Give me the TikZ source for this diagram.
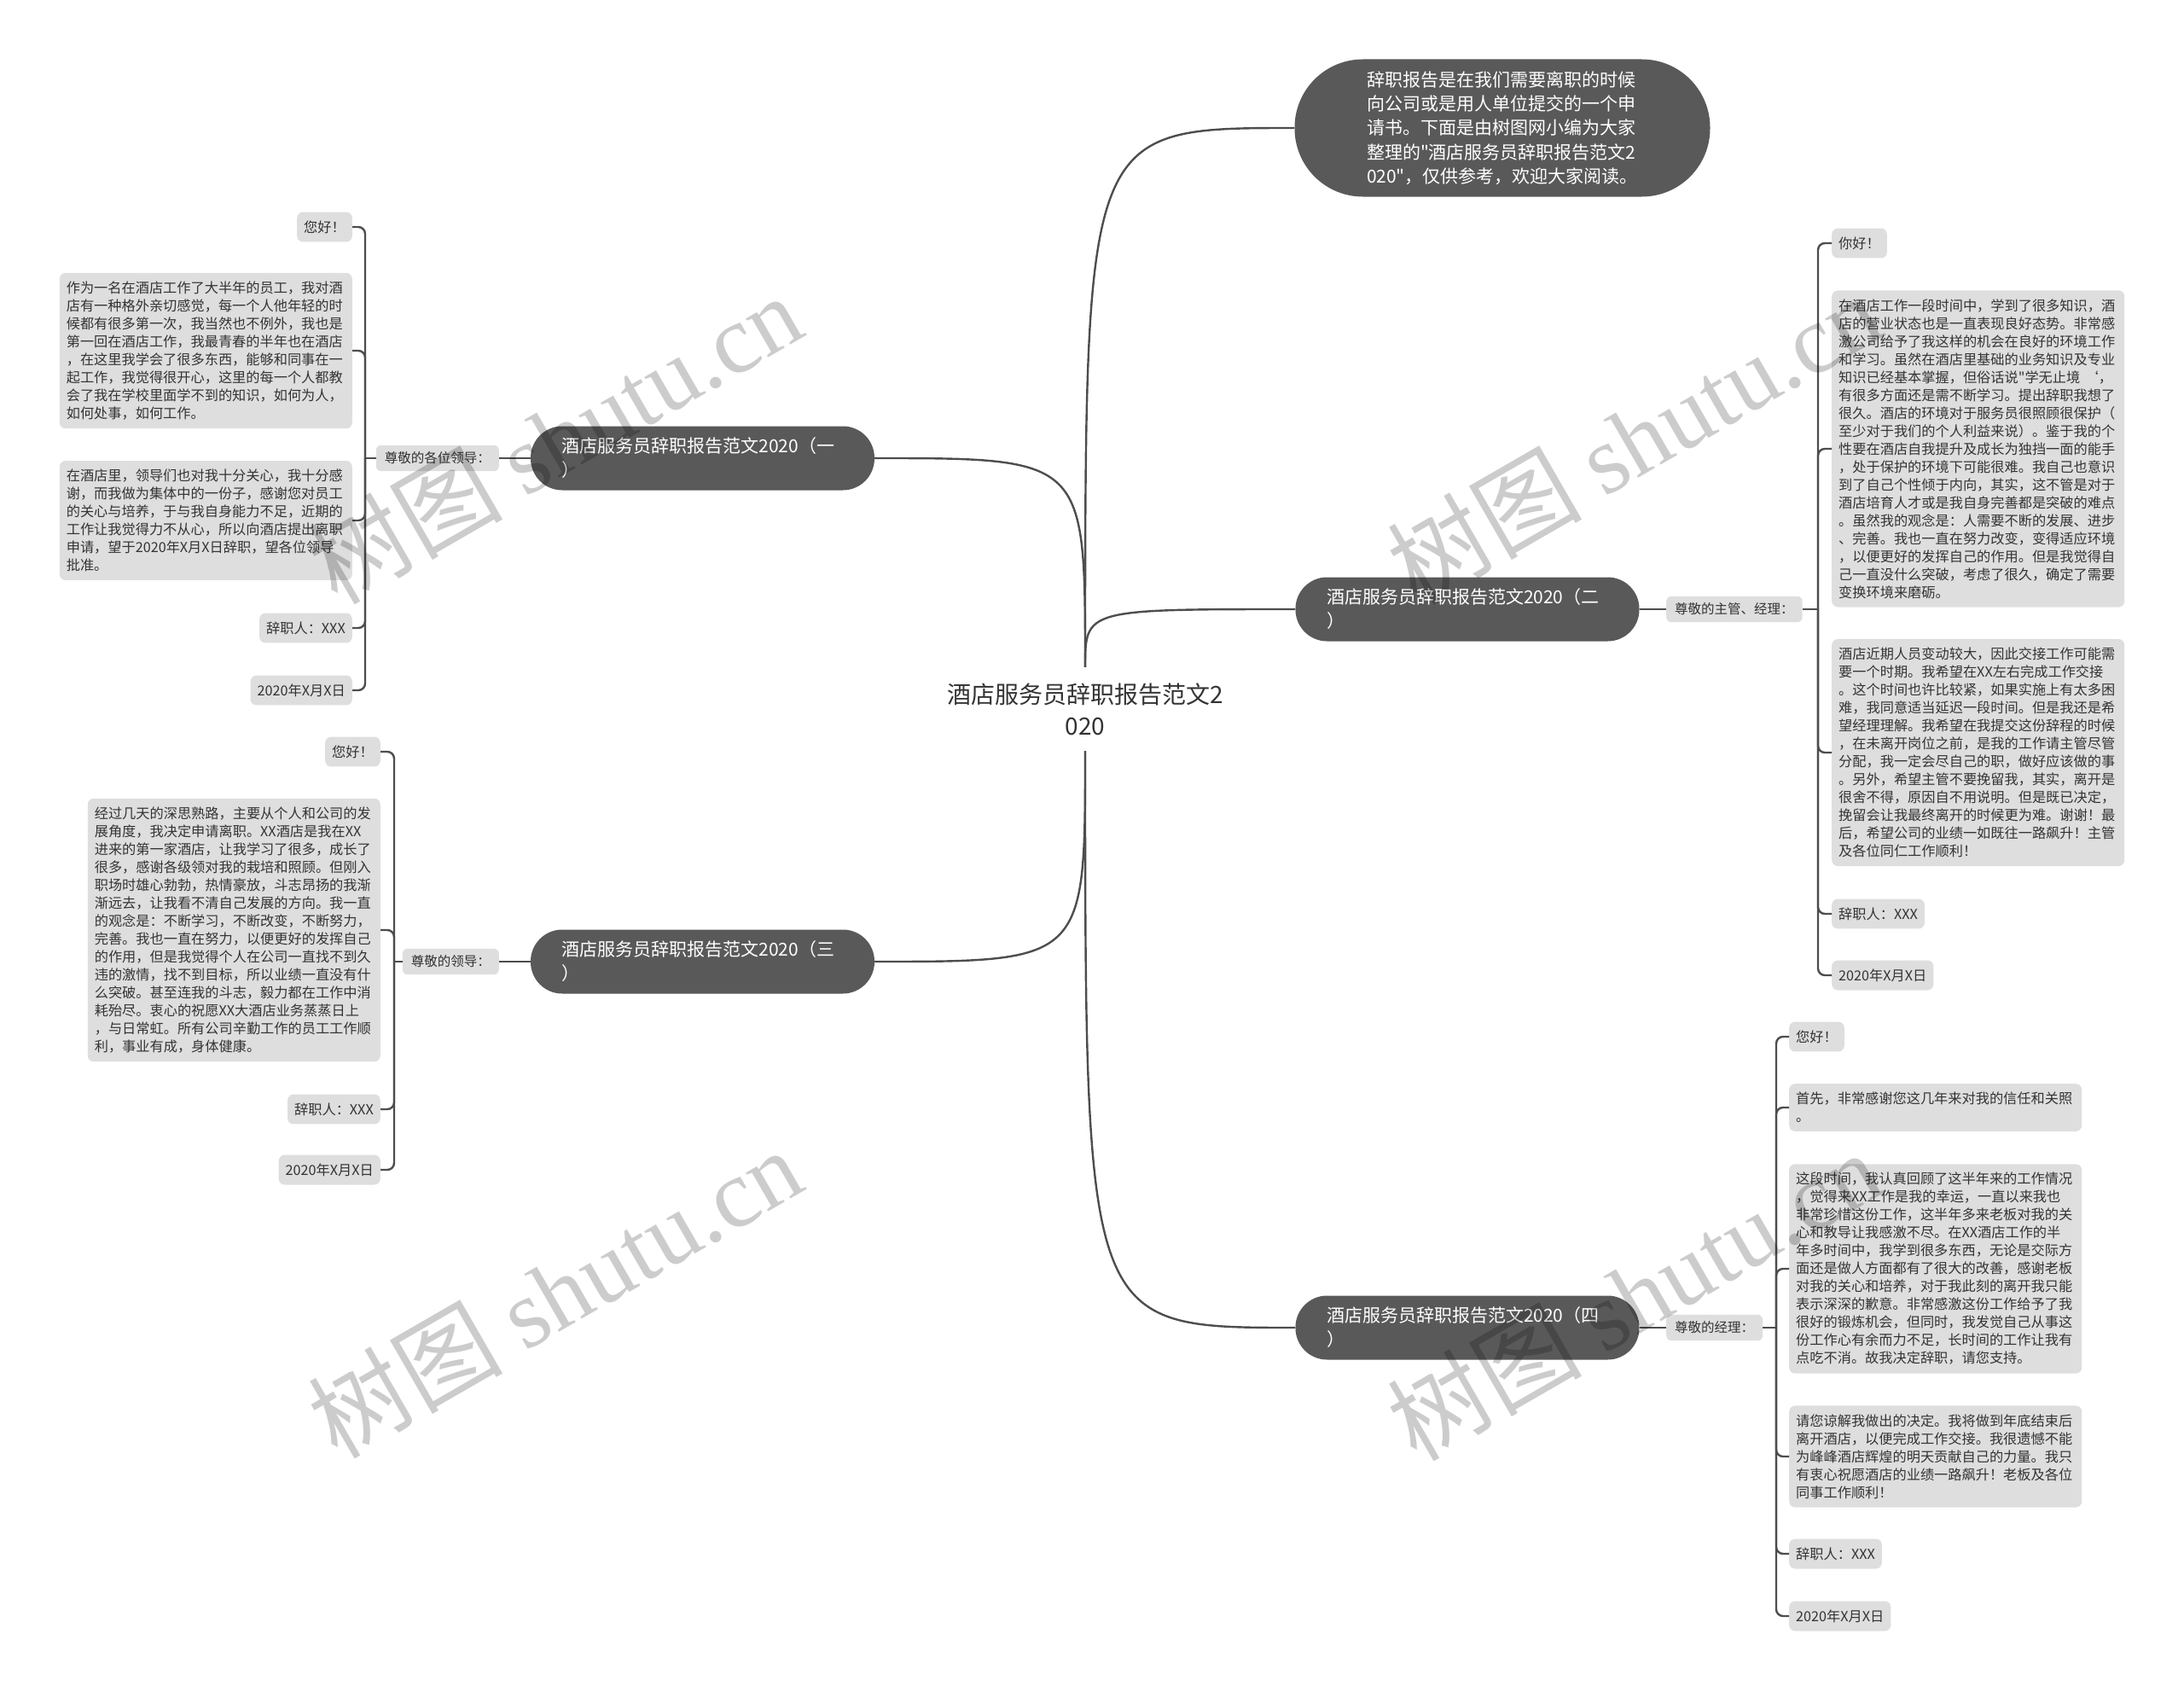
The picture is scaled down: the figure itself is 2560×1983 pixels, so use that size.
\documentclass[tikz,border=0pt]{standalone}
\usepackage{fontspec}
\newfontfamily\cjkfont{Noto Sans CJK SC}
\newfontfamily\wmfont{Liberation Serif}
\usepackage{xcolor}
\usepackage{tikz}
\usetikzlibrary{calc, positioning}
\definecolor{topicgray}{HTML}{595959}
\definecolor{leafgray}{HTML}{DEDEDE}
\definecolor{linegray}{HTML}{4D4D4D}
\definecolor{textgray}{HTML}{333333}

\begin{document}
\begin{tikzpicture}[x=1pt, y=-1pt,
  rootnode/.style={align=center, text=textgray, font=\cjkfont\fontsize{28}{37}\selectfont, minimum height=98pt, inner sep=0pt},
  intronode/.style={rectangle, fill=topicgray, text=white, rounded corners=80pt, minimum width=487pt, minimum height=161pt, text width=318pt, align=left, font=\cjkfont\fontsize{21}{28.3}\selectfont},
  topicnode/.style={rectangle, fill=topicgray, text=white, rounded corners=37pt, minimum width=403pt, minimum height=75pt, text width=330pt, align=left, font=\cjkfont\fontsize{21}{28}\selectfont},
  tagnode/.style={rectangle, fill=leafgray, text=textgray, rounded corners=6pt, inner xsep=10pt, inner ysep=8pt, font=\cjkfont\fontsize{15.5}{20}\selectfont},
  leafnode/.style={rectangle, fill=leafgray, text=textgray, rounded corners=7pt, inner xsep=8pt, inner ysep=10pt, align=left, font=\cjkfont\fontsize{16.2}{21}\selectfont},
  longleaf/.style={leafnode, text width=327pt},
  link/.style={draw=linegray, line width=2.4pt},
  bracket/.style={link, rounded corners=8pt},
  watermark/.style={rotate=30, text=black, text opacity=0.2, font=\cjkfont\fontsize{114}{114}\selectfont}
]
\useasboundingbox (0,0) rectangle (2560,1983);
\node[rootnode] (root) at (1272,831) {酒店服务员辞职报告范文2\\020};
\node[intronode] (intro) at (1761,150) {辞职报告是在我们需要离职的时候\\向公司或是用人单位提交的一个申\\请书。下面是由树图网小编为大家\\整理的"酒店服务员辞职报告范文2\\020"，仅供参考，欢迎大家阅读。};
\node[topicnode] (t1) at (823.5,537) {酒店服务员辞职报告范文2020（一\\）};
\node[topicnode] (t2) at (1720,714) {酒店服务员辞职报告范文2020（二\\）};
\node[topicnode] (t3) at (823.5,1127) {酒店服务员辞职报告范文2020（三\\）};
\node[topicnode] (t4) at (1720,1556) {酒店服务员辞职报告范文2020（四\\）};
\draw[link] (root.north) .. controls (root.north |- intro.west) .. (intro.west);
\draw[link] (root.north) .. controls (root.north |- t1.east) .. (t1.east);
\draw[link] (root.north) .. controls (root.north |- t2.west) .. (t2.west);
\draw[link] (root.south) .. controls (root.south |- t3.east) .. (t3.east);
\draw[link] (root.south) .. controls (root.south |- t4.west) .. (t4.west);
\node[tagnode, anchor=east] (g1) at (585,537) {尊敬的各位领导：};
\node[tagnode, anchor=west] (g2) at (1953,714) {尊敬的主管、经理：};
\node[tagnode, anchor=east] (g3) at (585,1127) {尊敬的领导：};
\node[tagnode, anchor=west] (g4) at (1953,1556) {尊敬的经理：};
\draw[link] (t1.west) -- (g1.east);
\draw[link] (t2.east) -- (g2.west);
\draw[link] (t3.west) -- (g3.east);
\draw[link] (t4.east) -- (g4.west);
\coordinate (b1) at (428,537);
\coordinate (b2) at (2131,714);
\coordinate (b3) at (462,1127);
\coordinate (b4) at (2082,1556);
\draw[link] (g1.west) -- (b1);
\draw[link] (g2.east) -- (b2);
\draw[link] (g3.west) -- (b3);
\draw[link] (g4.east) -- (b4);
\node[leafnode, anchor=east] (a1) at (413,266) {您好！};
\node[longleaf, anchor=east] (a2) at (413,411) {作为一名在酒店工作了大半年的员工，我对酒\\店有一种格外亲切感觉，每一个人他年轻的时\\候都有很多第一次，我当然也不例外，我也是\\第一回在酒店工作，我最青春的半年也在酒店\\，在这里我学会了很多东西，能够和同事在一\\起工作，我觉得很开心，这里的每一个人都教\\会了我在学校里面学不到的知识，如何为人，\\如何处事，如何工作。};
\node[longleaf, anchor=east] (a3) at (413,610) {在酒店里，领导们也对我十分关心，我十分感\\谢，而我做为集体中的一份子，感谢您对员工\\的关心与培养，于与我自身能力不足，近期的\\工作让我觉得力不从心，所以向酒店提出离职\\申请，望于2020年X月X日辞职，望各位领导\\批准。};
\node[leafnode, anchor=east] (a4) at (413,736) {辞职人：XXX};
\node[leafnode, anchor=east] (a5) at (413,809) {2020年X月X日};
\draw[bracket] (b1) |- (a1.east);
\draw[bracket] (b1) |- (a2.east);
\draw[bracket] (b1) |- (a3.east);
\draw[bracket] (b1) |- (a4.east);
\draw[bracket] (b1) |- (a5.east);
\node[leafnode, anchor=west] (c1) at (2147,285) {你好！};
\node[longleaf, anchor=west] (c2) at (2147,526) {在酒店工作一段时间中，学到了很多知识，酒\\店的营业状态也是一直表现良好态势。非常感\\激公司给予了我这样的机会在良好的环境工作\\和学习。虽然在酒店里基础的业务知识及专业\\知识已经基本掌握，但俗话说"学无止境~‘，\\有很多方面还是需不断学习。提出辞职我想了\\很久。酒店的环境对于服务员很照顾很保护（\\至少对于我们的个人利益来说）。鉴于我的个\\性要在酒店自我提升及成长为独挡一面的能手\\，处于保护的环境下可能很难。我自己也意识\\到了自己个性倾于内向，其实，这不管是对于\\酒店培育人才或是我自身完善都是突破的难点\\。虽然我的观念是：人需要不断的发展、进步\\、完善。我也一直在努力改变，变得适应环境\\，以便更好的发挥自己的作用。但是我觉得自\\己一直没什么突破，考虑了很久，确定了需要\\变换环境来磨砺。};
\node[longleaf, anchor=west] (c3) at (2147,882) {酒店近期人员变动较大，因此交接工作可能需\\要一个时期。我希望在XX左右完成工作交接\\。这个时间也许比较紧，如果实施上有太多困\\难，我同意适当延迟一段时间。但是我还是希\\望经理理解。我希望在我提交这份辞程的时候\\，在未离开岗位之前，是我的工作请主管尽管\\分配，我一定会尽自己的职，做好应该做的事\\。另外，希望主管不要挽留我，其实，离开是\\很舍不得，原因自不用说明。但是既已决定，\\挽留会让我最终离开的时候更为难。谢谢！最\\后，希望公司的业绩一如既往一路飙升！主管\\及各位同仁工作顺利！};
\node[leafnode, anchor=west] (c4) at (2147,1071) {辞职人：XXX};
\node[leafnode, anchor=west] (c5) at (2147,1143) {2020年X月X日};
\draw[bracket] (b2) |- (c1.west);
\draw[bracket] (b2) |- (c2.west);
\draw[bracket] (b2) |- (c3.west);
\draw[bracket] (b2) |- (c4.west);
\draw[bracket] (b2) |- (c5.west);
\node[leafnode, anchor=east] (d1) at (446,881) {您好！};
\node[longleaf, anchor=east] (d2) at (446,1090) {经过几天的深思熟路，主要从个人和公司的发\\展角度，我决定申请离职。XX酒店是我在XX\\进来的第一家酒店，让我学习了很多，成长了\\很多，感谢各级领对我的栽培和照顾。但刚入\\职场时雄心勃勃，热情豪放，斗志昂扬的我渐\\渐远去，让我看不清自己发展的方向。我一直\\的观念是：不断学习，不断改变，不断努力，\\完善。我也一直在努力，以便更好的发挥自己\\的作用，但是我觉得个人在公司一直找不到久\\违的激情，找不到目标，所以业绩一直没有什\\么突破。甚至连我的斗志，毅力都在工作中消\\耗殆尽。衷心的祝愿XX大酒店业务蒸蒸日上\\，与日常虹。所有公司辛勤工作的员工工作顺\\利，事业有成，身体健康。};
\node[leafnode, anchor=east] (d3) at (446,1300) {辞职人：XXX};
\node[leafnode, anchor=east] (d4) at (446,1371) {2020年X月X日};
\draw[bracket] (b3) |- (d1.east);
\draw[bracket] (b3) |- (d2.east);
\draw[bracket] (b3) |- (d3.east);
\draw[bracket] (b3) |- (d4.east);
\node[leafnode, anchor=west] (e1) at (2097,1215) {您好！};
\node[longleaf, anchor=west] (e2) at (2097,1298) {首先，非常感谢您这几年来对我的信任和关照\\。};
\node[longleaf, anchor=west] (e3) at (2097,1487) {这段时间，我认真回顾了这半年来的工作情况\\，觉得来XX工作是我的幸运，一直以来我也\\非常珍惜这份工作，这半年多来老板对我的关\\心和教导让我感激不尽。在XX酒店工作的半\\年多时间中，我学到很多东西，无论是交际方\\面还是做人方面都有了很大的改善，感谢老板\\对我的关心和培养，对于我此刻的离开我只能\\表示深深的歉意。非常感激这份工作给予了我\\很好的锻炼机会，但同时，我发觉自己从事这\\份工作心有余而力不足，长时间的工作让我有\\点吃不消。故我决定辞职，请您支持。};
\node[longleaf, anchor=west] (e4) at (2097,1707) {请您谅解我做出的决定。我将做到年底结束后\\离开酒店，以便完成工作交接。我很遗憾不能\\为峰峰酒店辉煌的明天贡献自己的力量。我只\\有衷心祝愿酒店的业绩一路飙升！老板及各位\\同事工作顺利！};
\node[leafnode, anchor=west] (e5) at (2097,1821) {辞职人：XXX};
\node[leafnode, anchor=west] (e6) at (2097,1894) {2020年X月X日};
\draw[bracket] (b4) |- (e1.west);
\draw[bracket] (b4) |- (e2.west);
\draw[bracket] (b4) |- (e3.west);
\draw[bracket] (b4) |- (e4.west);
\draw[bracket] (b4) |- (e5.west);
\draw[bracket] (b4) |- (e6.west);
\node[watermark] (wm1) at (650,514) {树图 {\wmfont shutu.cn}};
\node[watermark] (wm2) at (1915,514) {树图 {\wmfont shutu.cn}};
\node[watermark] (wm3) at (650,1515) {树图 {\wmfont shutu.cn}};
\node[watermark] (wm4) at (1915,1518) {树图 {\wmfont shutu.cn}};
\end{tikzpicture}
\end{document}
